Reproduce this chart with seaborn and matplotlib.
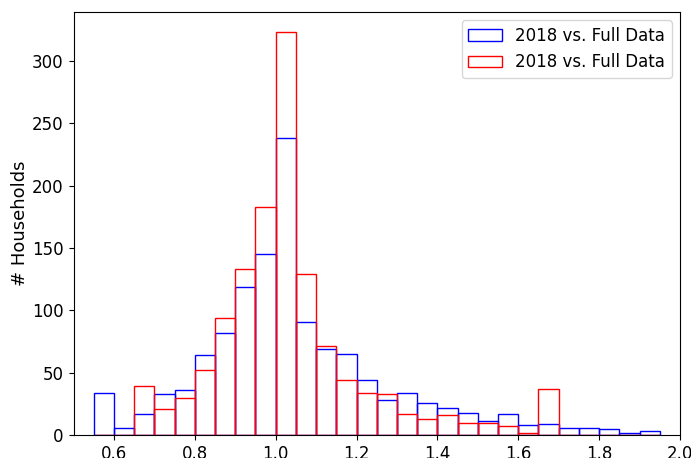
import numpy as np
import pandas as pd
import matplotlib
matplotlib.use("Agg")
import matplotlib.pyplot as plt
import seaborn as sns

# Histogram bins: 0.55 .. 1.95 in steps of 0.05
bin_edges = list(np.round(np.linspace(0.55, 1.95, 29), 4))
bin_centers = [(a + b) / 2 for a, b in zip(bin_edges[:-1], bin_edges[1:])]

# Household counts per bin for the two comparisons
counts_blue = [34, 6, 17, 33, 36, 64, 82, 119, 145, 238, 91, 69, 65, 44,
               28, 34, 26, 22, 18, 11, 17, 8, 9, 6, 6, 5, 2, 3]
counts_red = [0, 0, 39, 21, 30, 52, 94, 133, 183, 323, 129, 71, 44, 34,
              33, 17, 13, 16, 10, 10, 7, 2, 37, 0, 0, 0, 0, 0]
labels = ["2018 vs. Full Data", "2018 vs. Full Data"]

df_blue = pd.DataFrame({"ratio": bin_centers, "n": counts_blue})
df_red = pd.DataFrame({"ratio": bin_centers, "n": counts_red})

plt.rcParams["font.size"] = 12
fig, ax = plt.subplots(figsize=(6.91, 4.58), dpi=100)
fig.subplots_adjust(left=73.5 / 691, right=680 / 691,
                    top=1 - 12 / 458, bottom=1 - 435 / 458)

sns.histplot(data=df_blue, x="ratio", weights="n", bins=bin_edges,
             fill=False, color="blue", linewidth=1, label=labels[0], ax=ax)
sns.histplot(data=df_red, x="ratio", weights="n", bins=bin_edges,
             fill=False, color="red", linewidth=1, label=labels[1], ax=ax)

ax.set_xlim(0.5, 2.0)
ax.set_xlabel("")
ax.set_ylabel("# Households", fontsize=13, labelpad=2)
ax.tick_params(labelsize=12)
ax.legend(loc="upper right", fontsize=12)

fig.savefig("out.png", dpi=100)
